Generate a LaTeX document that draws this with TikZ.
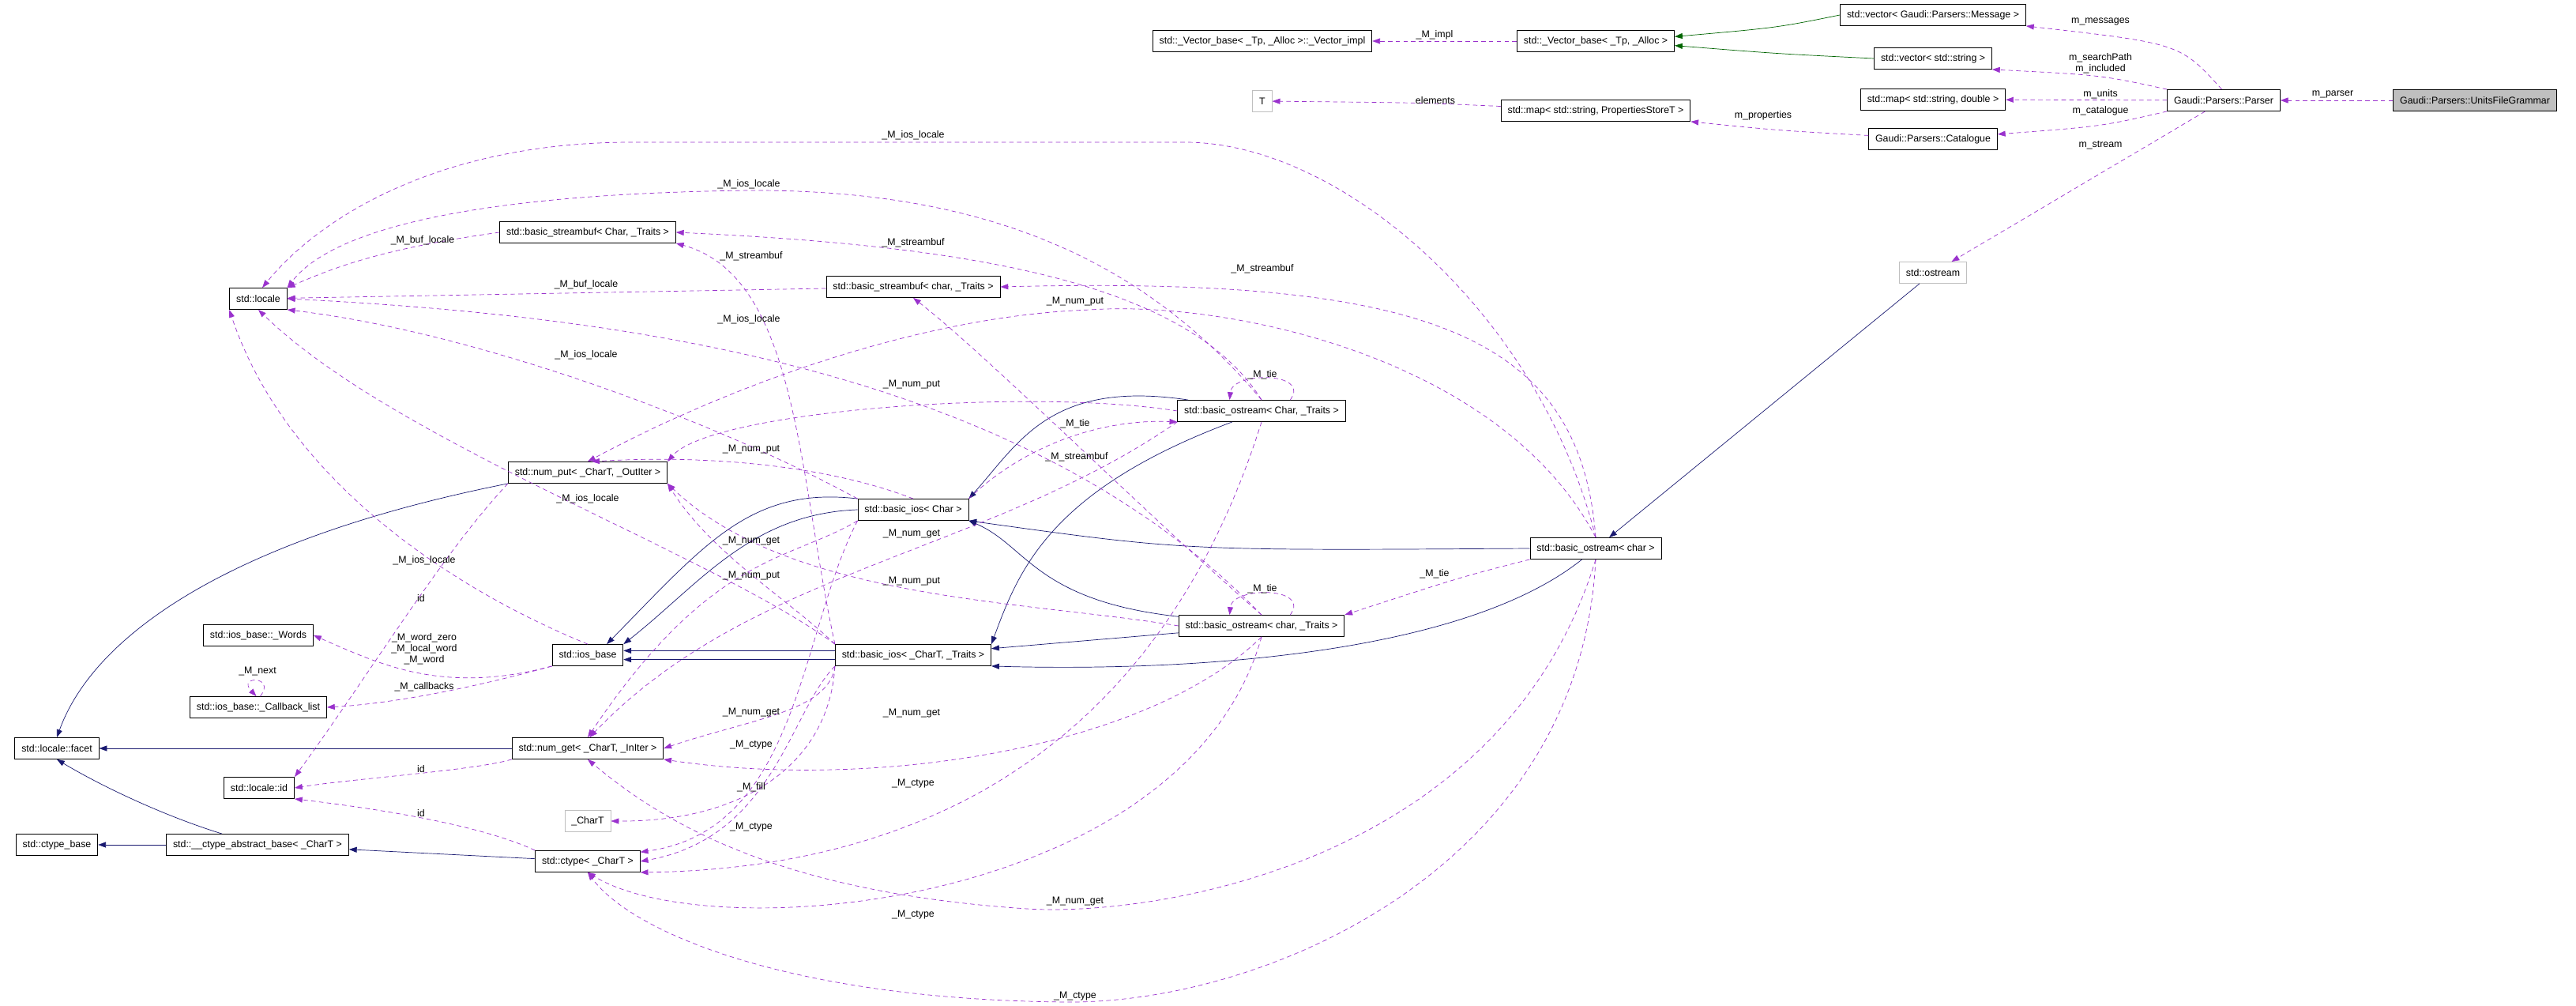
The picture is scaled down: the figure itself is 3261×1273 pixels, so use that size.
\documentclass[tikz,border=0pt]{standalone}
\usepackage{fontspec}
\setmainfont{Liberation Sans}
\usetikzlibrary{arrows.meta}
\definecolor{inhblue}{HTML}{191970}
\definecolor{usepurple}{HTML}{9A32CD}
\definecolor{tmplgreen}{HTML}{006400}
\definecolor{boxgray}{HTML}{BFBFBF}
\begin{document}
\begin{tikzpicture}[x=0.025cm, y=-0.025cm,
    cls/.style={draw, line width=0.6pt, minimum height=0.675cm, inner xsep=6pt, inner ysep=0pt, font=\fontsize{8.8}{10}\selectfont},
    ext/.style={cls, draw=boxgray},
    lbl/.style={inner sep=0pt, align=center, font=\fontsize{8.8}{10}\selectfont},
    inh/.style={draw=inhblue, line width=0.5pt, -{Triangle[length=7pt,width=5pt]}, inhblue},
    tmpl/.style={draw=tmplgreen, line width=0.5pt, -{Triangle[length=7pt,width=5pt]}, tmplgreen},
    usage/.style={draw=usepurple, line width=0.5pt, dash pattern=on 4pt off 3pt, -{Triangle[length=7pt,width=5pt]}, usepurple}]
    \useasboundingbox (0,0) rectangle (3261,1273);
    % classes
    \node[cls, fill=boxgray] (ufg) at (3133,127) {Gaudi::Parsers::UnitsFileGrammar};
    \node[cls] (parser) at (2815,127) {Gaudi::Parsers::Parser};
    \node[cls] (vmsg) at (2447,19) {std::vector< Gaudi::Parsers::Message >};
    \node[cls] (vstr) at (2447,74) {std::vector< std::string >};
    \node[cls] (mapd) at (2447,126) {std::map< std::string, double >};
    \node[cls] (cat) at (2447,176) {Gaudi::Parsers::Catalogue};
    \node[ext] (ostr) at (2447,345) {std::ostream};
    \node[cls] (vbase) at (2020,52) {std::\_Vector\_base< \_Tp, \_Alloc >};
    \node[cls] (vimpl) at (1598,52) {std::\_Vector\_base< \_Tp, \_Alloc >::\_Vector\_impl};
    \node[cls] (mapP) at (2020,140) {std::map< std::string, PropertiesStoreT >};
    \node[ext] (T) at (1598,128) {T};
    \node[cls] (osc) at (2020,694) {std::basic\_ostream< char >};
    \node[cls] (osC) at (1597,520) {std::basic\_ostream< Char, \_Traits >};
    \node[cls] (osT) at (1597,792) {std::basic\_ostream< char, \_Traits >};
    \node[cls] (iosC) at (1156,645) {std::basic\_ios< Char >};
    \node[cls] (iosT) at (1156,829) {std::basic\_ios< \_CharT, \_Traits >};
    \node[cls] (sbc) at (1156,363) {std::basic\_streambuf< char, \_Traits >};
    \node[cls] (sbC) at (744,294) {std::basic\_streambuf< Char, \_Traits >};
    \node[cls] (nput) at (744,598) {std::num\_put< \_CharT, \_OutIter >};
    \node[cls] (iosb) at (744,829) {std::ios\_base};
    \node[cls] (nget) at (744,947) {std::num\_get< \_CharT, \_InIter >};
    \node[ext] (chT) at (744,1039) {\_CharT};
    \node[cls] (ctp) at (744,1090) {std::ctype< \_CharT >};
    \node[cls] (loc) at (327,378) {std::locale};
    \node[cls] (words) at (327,804) {std::ios\_base::\_Words};
    \node[cls] (cbl) at (327,895) {std::ios\_base::\_Callback\_list};
    \node[cls] (lid) at (328,997) {std::locale::id};
    \node[cls] (cab) at (326,1069) {std::\_\_ctype\_abstract\_base< \_CharT >};
    \node[cls] (facet) at (72,947) {std::locale::facet};
    \node[cls] (ctb) at (72,1069) {std::ctype\_base};
    % inheritance
    \draw[inh] (ostr) -- (osc);
    \draw[inh] (osC) .. controls (1330,480) and (1290,560) .. (iosC.north east);
    \draw[inh] (osC) .. controls (1330,620) and (1290,720) .. (iosT.north east);
    \draw[inh] (osT) .. controls (1310,760) and (1300,690) .. (iosC.south east);
    \draw[inh] (osT) -- (iosT);
    \draw[inh] (osc.west) .. controls (1500,697) .. (iosC.south east);
    \draw[inh] (osc) .. controls (1850,830) and (1500,850) .. (iosT.south east);
    \draw[inh] (iosC.north west) .. controls (950,615) and (891,690) .. (iosb.30);
    \draw[inh] (iosC.west) .. controls (950,650) and (885,740) .. (iosb.north east);
    \draw[inh] ([yshift=4pt]iosT.west) -- ([yshift=4pt]iosb.east);
    \draw[inh] ([yshift=-4pt]iosT.west) -- ([yshift=-4pt]iosb.east);
    \draw[inh] (nput.south west) .. controls (300,680) and (120,800) .. (facet.north);
    \draw[inh] (nget) -- (facet);
    \draw[inh] (cab) .. controls (200,1030) and (120,990) .. (facet.south);
    \draw[inh] (cab) -- (ctb);
    \draw[inh] (ctp) -- (cab);
    \draw[tmpl] (vmsg.west) .. controls (2250,35) .. ([yshift=4pt]vbase.east);
    \draw[tmpl] (vstr.west) .. controls (2250,68) .. ([yshift=-4pt]vbase.east);
    % members, top
    \draw[usage] (ufg) -- (parser);
    \draw[usage] (parser.100) .. controls (2760,55) .. (vmsg.south east);
    \draw[usage] (parser.north west) .. controls (2660,95) .. (vstr.south east);
    \draw[usage] (parser) -- (mapd);
    \draw[usage] (parser.south west) .. controls (2660,160) .. (cat);
    \draw[usage] (parser) -- (ostr);
    \draw[usage] (cat) .. controls (2250,165) .. (mapP.south east);
    \draw[usage] (mapP) .. controls (1800,130) .. (T);
    \draw[usage] (vbase) -- (vimpl);
    % locale
    \draw[usage] (osc.north) .. controls (1950,400) and (1700,180) .. (1500,180) -- (800,180) .. controls (550,180) and (400,280) .. (loc.70);
    \draw[usage] (osC.north) .. controls (1450,330) and (1250,240) .. (950,241) .. controls (600,245) and (420,290) .. (loc.north east);
    \draw[usage] (sbC.west) .. controls (480,315) and (420,340) .. (loc.north east);
    \draw[usage] (sbc) -- (loc);
    \draw[usage] (osT.north) .. controls (1300,470) and (800,400) .. (loc.east);
    \draw[usage] (iosC.north west) .. controls (900,530) and (600,420) .. (loc.south east);
    \draw[usage] (iosT.north west) .. controls (900,700) and (500,560) .. (loc.south);
    \draw[usage] (iosb.north) .. controls (560,740) and (360,600) .. (loc.south west);
    % streambuf
    \draw[usage] (iosT.north west) .. controls (1010,600) and (1010,350) .. (sbC.south east);
    \draw[usage] (osC.north) .. controls (1500,350) and (1200,310) .. (sbC.east);
    \draw[usage] (osc.north) .. controls (2000,420) and (1800,350) .. (sbc.east);
    \draw[usage] (osT.north) .. controls (1450,650) and (1250,450) .. (sbc.south);
    % num_put
    \draw[usage] (osc.north) .. controls (1900,450) and (1550,380) .. (1380,392) .. controls (1150,400) and (900,500) .. (nput.north);
    \draw[usage] (osC.west) .. controls (1300,490) and (900,520) .. (nput.north east);
    \draw[usage] (iosC.north) .. controls (1050,590) and (900,575) .. (nput.70);
    \draw[usage] (osT.west) .. controls (1300,760) and (1000,760) .. (nput.south east);
    \draw[usage] (iosT.north west) .. controls (1000,760) and (900,700) .. (nput.south east);
    % num_get
    \draw[usage] (iosC.south west) .. controls (1000,710) and (900,700) .. (nget.north);
    \draw[usage] (osC.south west) .. controls (1250,700) and (950,720) .. (nget.80);
    \draw[usage] (iosT.south west) .. controls (1050,900) and (950,910) .. (nget.east);
    \draw[usage] (osT.south) .. controls (1450,950) and (1100,1000) .. (nget.south east);
    \draw[usage] (osc.south) .. controls (1900,1100) and (1450,1160) .. (1300,1150) .. controls (1000,1130) and (850,1050) .. (nget.south);
    % ctype, _CharT
    \draw[usage] (iosC.south west) .. controls (1012,800) and (1012,1050) .. (ctp.10);
    \draw[usage] (iosT.south west) .. controls (1000,900) and (980,1060) .. (ctp.east);
    \draw[usage] (osC.south) .. controls (1450,1000) and (1100,1100) .. (ctp.south east);
    \draw[usage] (osT.south) .. controls (1500,1150) and (900,1200) .. (ctp.south);
    \draw[usage] (osc.south) .. controls (2000,1100) and (1600,1270) .. (1350,1268) .. controls (1000,1265) and (800,1180) .. (ctp.south);
    \draw[usage] (iosT.south west) .. controls (1050,960) and (950,1040) .. (chT.east);
    % id
    \draw[usage] (nput.south west) .. controls (560,700) and (470,850) .. (lid.north east);
    \draw[usage] (nget.south west) .. controls (600,975) and (450,985) .. (lid.east);
    \draw[usage] (ctp.north west) .. controls (600,1040) and (450,1020) .. (lid.south east);
    % ios_base
    \draw[usage] (iosb.south west) .. controls (560,880) and (480,840) .. (words.east);
    \draw[usage] (iosb.south west) .. controls (600,870) and (500,890) .. (cbl.east);
    \draw[usage] (cbl.80) .. controls (350,855) and (300,855) .. (cbl.100);
    % tie
    \draw[usage] (osC.21) .. controls (1660,470) and (1560,470) .. (osC.161);
    \draw[usage] (osT.21) .. controls (1660,742) and (1560,742) .. (osT.161);
    \draw[usage] (iosC.north east) .. controls (1300,560) and (1400,530) .. (osC.south west);
    \draw[usage] (osc.south west) .. controls (1850,730) .. (osT.north east);
    % labels
    \node[lbl] (l-parser) at (2953,119) {m\_parser};
    \node[lbl] (l-messages) at (2659,27) {m\_messages};
    \node[lbl] (l-search) at (2659,80) {m\_searchPath\\m\_included};
    \node[lbl] (l-units) at (2659,119) {m\_units};
    \node[lbl] (l-catalogue) at (2659,140) {m\_catalogue};
    \node[lbl] (l-stream) at (2659,184) {m\_stream};
    \node[lbl] (l-properties) at (2232,146) {m\_properties};
    \node[lbl] (l-elements) at (1817,127) {elements};
    \node[lbl] (l-impl) at (1816,44) {\_M\_impl};
    \node[lbl] (l-loc1) at (1156,171) {\_M\_ios\_locale};
    \node[lbl] (l-loc2) at (948,233) {\_M\_ios\_locale};
    \node[lbl] (l-buf1) at (535,304) {\_M\_buf\_locale};
    \node[lbl] (l-buf2) at (742,360) {\_M\_buf\_locale};
    \node[lbl] (l-loc3) at (948,404) {\_M\_ios\_locale};
    \node[lbl] (l-loc4) at (742,449) {\_M\_ios\_locale};
    \node[lbl] (l-loc5) at (744,631) {\_M\_ios\_locale};
    \node[lbl] (l-loc6) at (537,709) {\_M\_ios\_locale};
    \node[lbl] (l-sb1) at (951,324) {\_M\_streambuf};
    \node[lbl] (l-sb2) at (1156,307) {\_M\_streambuf};
    \node[lbl] (l-sb3) at (1598,340) {\_M\_streambuf};
    \node[lbl] (l-sb4) at (1363,578) {\_M\_streambuf};
    \node[lbl] (l-np1) at (1361,382) {\_M\_num\_put};
    \node[lbl] (l-np2) at (1154,487) {\_M\_num\_put};
    \node[lbl] (l-np3) at (951,569) {\_M\_num\_put};
    \node[lbl] (l-np4) at (1154,736) {\_M\_num\_put};
    \node[lbl] (l-np5) at (951,729) {\_M\_num\_put};
    \node[lbl] (l-ng1) at (951,685) {\_M\_num\_get};
    \node[lbl] (l-ng2) at (1154,676) {\_M\_num\_get};
    \node[lbl] (l-ng3) at (951,902) {\_M\_num\_get};
    \node[lbl] (l-ng4) at (1154,903) {\_M\_num\_get};
    \node[lbl] (l-ng5) at (1361,1141) {\_M\_num\_get};
    \node[lbl] (l-ct1) at (951,943) {\_M\_ctype};
    \node[lbl] (l-ct2) at (951,1047) {\_M\_ctype};
    \node[lbl] (l-ct3) at (1156,992) {\_M\_ctype};
    \node[lbl] (l-ct4) at (1156,1158) {\_M\_ctype};
    \node[lbl] (l-ct5) at (1361,1261) {\_M\_ctype};
    \node[lbl] (l-fill) at (951,996) {\_M\_fill};
    \node[lbl] (l-id1) at (533,757) {id};
    \node[lbl] (l-id2) at (533,973) {id};
    \node[lbl] (l-id3) at (533,1029) {id};
    \node[lbl] (l-words) at (537,821) {\_M\_word\_zero\\\_M\_local\_word\\\_M\_word};
    \node[lbl] (l-next) at (326,849) {\_M\_next};
    \node[lbl] (l-callbacks) at (537,869) {\_M\_callbacks};
    \node[lbl] (l-tie1) at (1598,474) {\_M\_tie};
    \node[lbl] (l-tie2) at (1598,745) {\_M\_tie};
    \node[lbl] (l-tie3) at (1361,536) {\_M\_tie};
    \node[lbl] (l-tie4) at (1816,726) {\_M\_tie};
\end{tikzpicture}
\end{document}
